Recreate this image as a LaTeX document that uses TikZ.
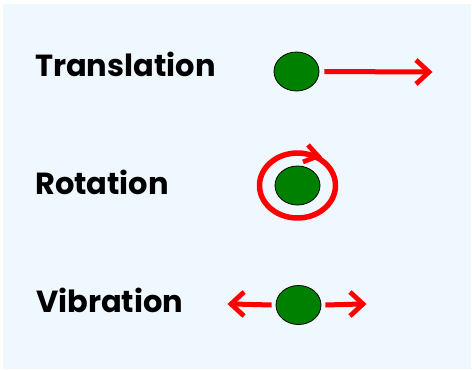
\documentclass[tikz,border=0pt]{standalone}
\usepackage{fontspec}
\setmainfont{Poppins}
\usetikzlibrary{shapes.geometric}
\definecolor{bgblue}{HTML}{F0F8FF}
\definecolor{ballgreen}{HTML}{008000}
\definecolor{arrred}{HTML}{FF0000}
\begin{document}
\begin{tikzpicture}[x=1pt,y=-1pt,
  ball/.style={ellipse,draw=black,line width=0.8pt,fill=ballgreen,minimum width=45pt,minimum height=39pt,inner sep=0pt},
  lbl/.style={anchor=base west,font=\fontsize{30.5}{32}\selectfont\bfseries,inner sep=0pt},
  shaft/.style={draw=arrred,line width=5pt},
  vhead/.style={draw=arrred,line width=4.8pt,line join=miter},
]
\useasboundingbox (0,0) rectangle (472,370);
\fill[bgblue] (3,4) rectangle (471,369);
% labels
\node[lbl] (ttrans) at (35,76) {Translation};
\node[lbl] (trot) at (35,194) {Rotation};
\node[lbl] (tvib) at (36,312) {Vibration};
% balls
\node[ball] (btrans) at (296.5,71.5) {};
\node[ball] (brot) at (297.5,185.5) {};
\node[ball] (bvib) at (298.5,305) {};
% translation arrow
\coordinate (ttip) at (429,72);
\draw[shaft] ([xshift=5pt]btrans.east) -- ([xshift=-2pt]ttip);
\draw[vhead] (ttip) ++(-13,-12) -- (ttip) -- ++(-13,12);
% rotation ring
\coordinate (rtip) at (318,156);
\draw[shaft,line width=5.5pt]
  (brot.center) ++(100:38pt and 32.5pt) arc[start angle=100,end angle=-300,x radius=38pt,y radius=32.5pt] -- (rtip);
\draw[vhead] (rtip) ++(-10,-11) -- (rtip) -- ++(-15,6);
% vibration arrows
\coordinate (vleft) at (231,304);
\coordinate (vright) at (363,304);
\draw[shaft] ([xshift=-4pt]bvib.west) -- ([xshift=2pt]vleft);
\draw[vhead] (vleft) ++(13,-12) -- (vleft) -- ++(13,12);
\draw[shaft] ([xshift=4pt]bvib.east) -- ([xshift=-2pt]vright);
\draw[vhead] (vright) ++(-13,-12) -- (vright) -- ++(-13,12);
\end{tikzpicture}
\end{document}
